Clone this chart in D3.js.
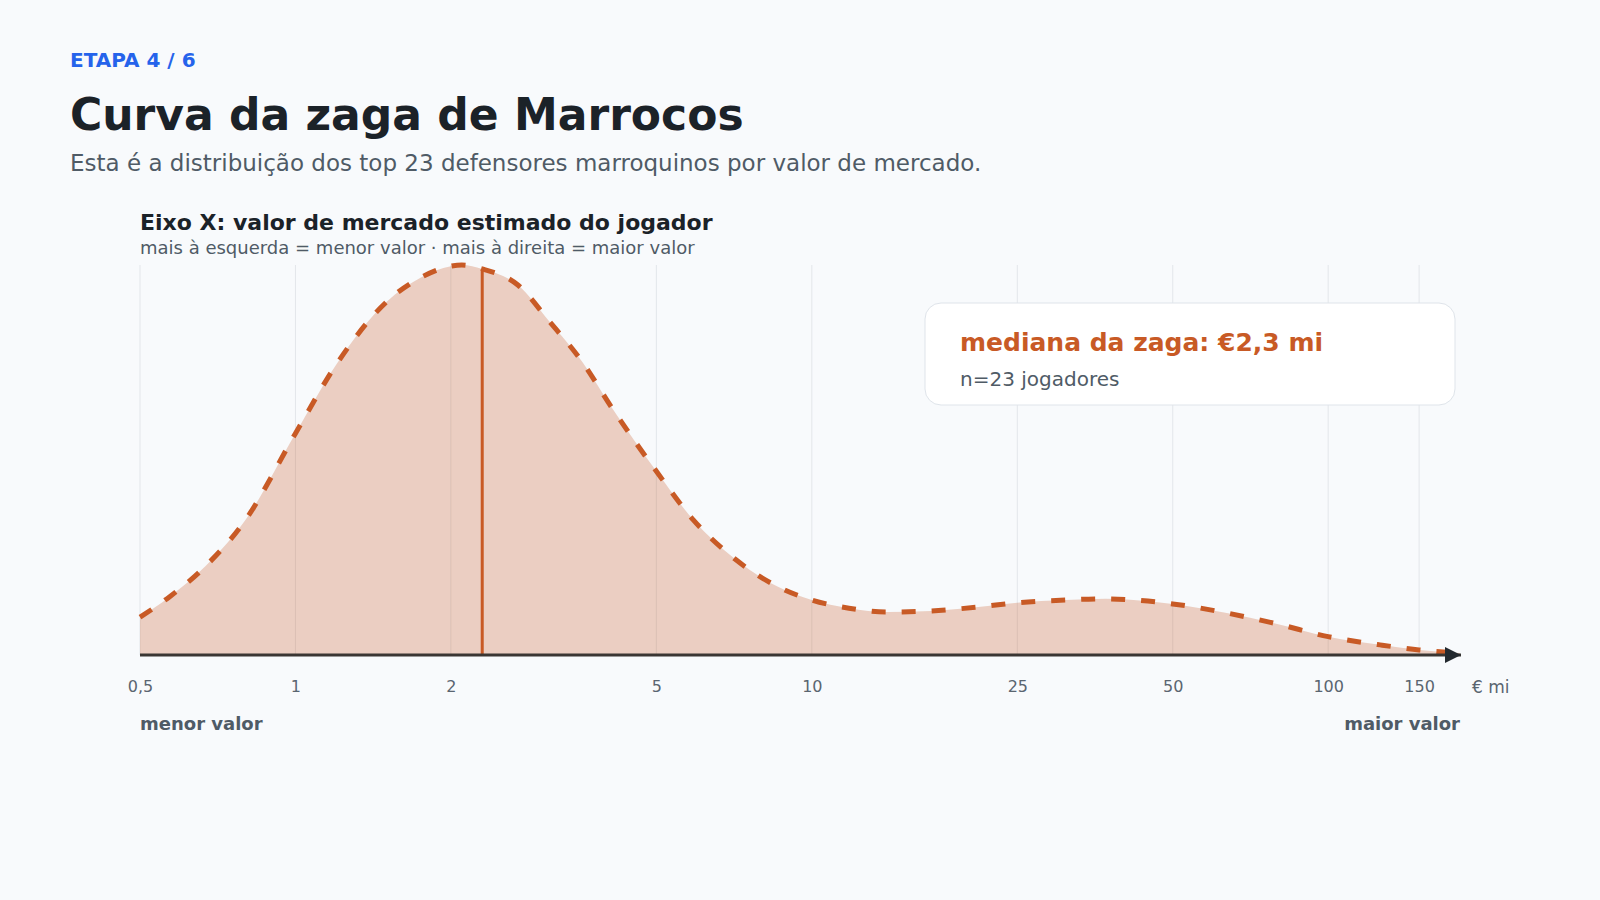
<!DOCTYPE html>
<html>
<head>
<meta charset="utf-8">
<script src="https://cdn.jsdelivr.net/npm/d3@7"></script>
<style>
  html, body { margin: 0; padding: 0; background: #f8fafc; }
  svg text { font-family: "DejaVu Sans", sans-serif; }
</style>
</head>
<body>
<svg id="chart" width="1600" height="900"></svg>
<script>
const values = [0.5, 0.57, 0.67, 0.8, 1.0, 1.2, 1.5, 1.75, 2.0, 2.1, 2.3, 2.7, 3.1, 3.6, 4.1, 5, 5.9, 7.1, 8.6, 10, 11.8, 14, 17, 21, 25, 31, 37, 42, 50, 64, 80, 100, 126, 150, 180];
const density = [0.097, 0.149, 0.228, 0.346, 0.568, 0.745, 0.905, 0.968, 0.997, 1.0, 0.99, 0.948, 0.856, 0.75, 0.634, 0.471, 0.346, 0.246, 0.175, 0.141, 0.12, 0.11, 0.113, 0.123, 0.134, 0.141, 0.144, 0.141, 0.131, 0.107, 0.079, 0.047, 0.026, 0.013, 0.005];
const tickValues = [0.5, 1, 2, 5, 10, 25, 50, 100, 150];
const tickLabels = ["0,5", "1", "2", "5", "10", "25", "50", "100", "150"];
const median = 2.3;
const nPlayers = 23;

const orange = "#c85a25";
const ink = "#1b2228";
const gray = "#4f5b66";

const svg = d3.select("#chart");

const x = d3.scaleLog().domain([0.5, 180]).range([140, 1460]);
const y = d3.scaleLinear().domain([0, 1]).range([655, 265]);

const points = values.map((v, i) => ({ v, d: density[i] }));

// header
svg.append("text").attr("x", 70).attr("y", 67)
  .attr("fill", "#2563eb").attr("font-size", 20).attr("font-weight", "bold")
  .text("ETAPA 4 / 6");
svg.append("text").attr("x", 70).attr("y", 130)
  .attr("fill", ink).attr("font-size", 44).attr("font-weight", "bold")
  .text("Curva da zaga de Marrocos");
svg.append("text").attr("x", 70).attr("y", 171)
  .attr("fill", gray).attr("font-size", 23)
  .text("Esta é a distribuição dos top 23 defensores marroquinos por valor de mercado.");

svg.append("text").attr("x", 140).attr("y", 230)
  .attr("fill", ink).attr("font-size", 22).attr("font-weight", "bold")
  .text("Eixo X: valor de mercado estimado do jogador");
svg.append("text").attr("x", 140).attr("y", 254)
  .attr("fill", gray).attr("font-size", 18)
  .text("mais à esquerda = menor valor · mais à direita = maior valor");

// grid
svg.append("g").selectAll("line").data(tickValues).join("line")
  .attr("x1", d => x(d)).attr("x2", d => x(d))
  .attr("y1", 265).attr("y2", 655)
  .attr("stroke", "#e3e6ea").attr("stroke-width", 1);

// density area + dashed outline
const area = d3.area().x(d => x(d.v)).y0(y(0)).y1(d => y(d.d)).curve(d3.curveMonotoneX);
const line = d3.line().x(d => x(d.v)).y(d => y(d.d)).curve(d3.curveMonotoneX);

svg.append("path").datum(points).attr("d", area)
  .attr("fill", orange).attr("fill-opacity", 0.27);
svg.append("path").datum(points).attr("d", line)
  .attr("fill", "none").attr("stroke", orange)
  .attr("stroke-width", 5).attr("stroke-dasharray", "14 16");

// median
const medTop = y(0.99);
svg.append("line").attr("x1", x(median)).attr("x2", x(median))
  .attr("y1", medTop).attr("y2", 655)
  .attr("stroke", orange).attr("stroke-width", 3);

// baseline with arrow
svg.append("defs").append("marker")
  .attr("id", "arrow").attr("viewBox", "0 0 10 10")
  .attr("refX", 10).attr("refY", 5)
  .attr("markerWidth", 20).attr("markerHeight", 16)
  .attr("markerUnits", "userSpaceOnUse").attr("orient", "auto")
  .append("path").attr("d", "M0,0L10,5L0,10Z").attr("fill", "#23292e");
svg.append("line").attr("x1", 140).attr("x2", 1461)
  .attr("y1", 655).attr("y2", 655)
  .attr("stroke", "#3a3633").attr("stroke-width", 3)
  .attr("marker-end", "url(#arrow)");

// tick labels
const axis = d3.axisBottom(x).tickValues(tickValues)
  .tickFormat((d, i) => tickLabels[i]).tickSize(0).tickPadding(0);
const axisG = svg.append("g").attr("transform", "translate(0,681)").call(axis);
axisG.select(".domain").remove();
axisG.selectAll("text")
  .attr("font-family", "DejaVu Sans").attr("font-size", 16)
  .attr("fill", "#5a6570").attr("dy", "0.71em");

svg.append("text").attr("x", 1472).attr("y", 693)
  .attr("fill", "#5a6570").attr("font-size", 17).text("€ mi");

svg.append("text").attr("x", 140).attr("y", 730)
  .attr("fill", gray).attr("font-size", 18).attr("font-weight", "bold")
  .text("menor valor");
svg.append("text").attr("x", 1460).attr("y", 730).attr("text-anchor", "end")
  .attr("fill", gray).attr("font-size", 18).attr("font-weight", "bold")
  .text("maior valor");

// annotation box
const box = svg.append("g").attr("transform", "translate(925,303)");
box.append("rect").attr("width", 530).attr("height", 102).attr("rx", 16)
  .attr("fill", "#ffffff").attr("stroke", "#dfe4ea");
box.append("text").attr("x", 35).attr("y", 48)
  .attr("fill", orange).attr("font-size", 25).attr("font-weight", "bold")
  .text(`mediana da zaga: €${d3.format(".1f")(median).replace(".", ",")} mi`);
box.append("text").attr("x", 35).attr("y", 83)
  .attr("fill", gray).attr("font-size", 20)
  .text(`n=${nPlayers} jogadores`);
</script>
</body>
</html>
